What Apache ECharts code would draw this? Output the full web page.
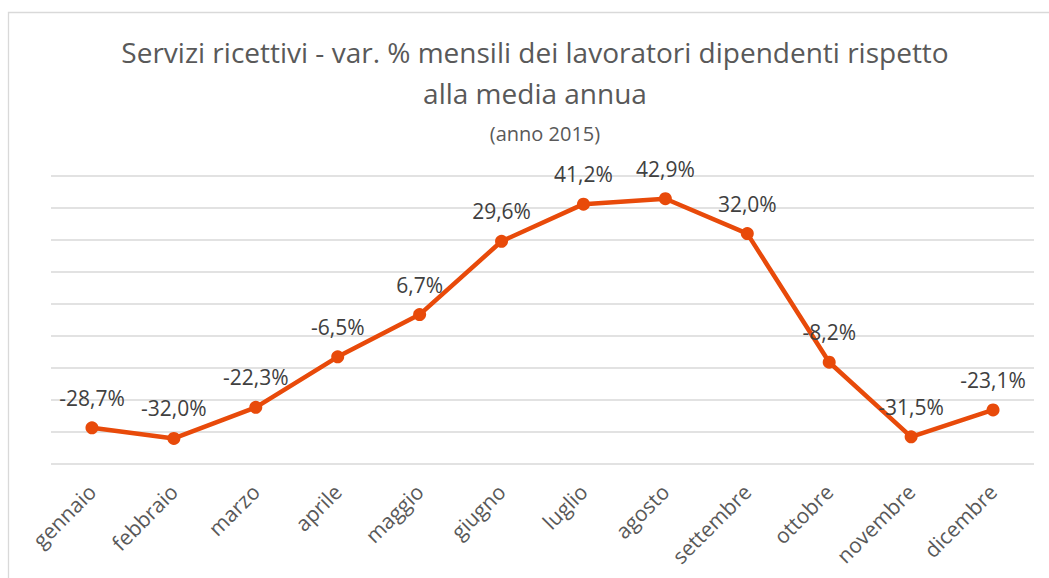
<!DOCTYPE html>
<html>
<head>
<meta charset="utf-8">
<script src="https://cdn.jsdelivr.net/npm/echarts@6/dist/echarts.min.js"></script>
<style>
  html, body { margin: 0; padding: 0; background: #ffffff; }
  #chart { width: 1049px; height: 578px; }
</style>
</head>
<body>
<div id="chart"></div>
<script>
const titleLine1 = 'Servizi ricettivi - var. % mensili dei lavoratori dipendenti rispetto';
const titleLine2 = 'alla media annua';
const subtitleText = '(anno 2015)';
const categories = ['gennaio', 'febbraio', 'marzo', 'aprile', 'maggio', 'giugno', 'luglio', 'agosto', 'settembre', 'ottobre', 'novembre', 'dicembre'];
const values = [-28.7, -32.0, -22.3, -6.5, 6.7, 29.6, 41.2, 42.9, 32.0, -8.2, -31.5, -23.1];
const yMin = -40;
const yMax = 50;
const yStep = 10;

const FONT = "'Open Sans', 'Noto Sans', sans-serif";
const chart = echarts.init(document.getElementById('chart'), null, { renderer: 'svg' });

chart.setOption({
  animation: false,
  backgroundColor: '#ffffff',
  graphic: [{
    type: 'rect',
    silent: true,
    shape: { x: 8.5, y: 12.5, width: 1200, height: 800 },
    style: { fill: 'none', stroke: '#d9d9d9', lineWidth: 1.3 }
  }],
  title: [{
    text: titleLine1 + '\n' + titleLine2,
    left: 535,
    top: 31,
    padding: 0,
    textAlign: 'center',
    textStyle: { fontFamily: FONT, fontSize: 28, fontWeight: 'normal', lineHeight: 41, color: '#595959' }
  }, {
    text: subtitleText,
    left: 545,
    top: 121,
    padding: 0,
    textAlign: 'center',
    textStyle: { fontFamily: FONT, fontSize: 20, fontWeight: 'normal', lineHeight: 24, color: '#595959' }
  }],
  grid: { left: 51, right: 15, top: 176, bottom: 114, containLabel: false },
  xAxis: {
    type: 'category',
    data: categories,
    boundaryGap: true,
    axisLine: { show: false },
    axisTick: { show: false },
    axisLabel: {
      rotate: 45,
      margin: 24,
      interval: 0,
      fontFamily: FONT,
      fontSize: 21,
      color: '#595959'
    }
  },
  yAxis: {
    type: 'value',
    min: yMin,
    max: yMax,
    interval: yStep,
    axisLine: { show: false },
    axisTick: { show: false },
    axisLabel: { show: false },
    splitLine: { show: true, lineStyle: { color: '#d9d9d9', width: 1.5 } }
  },
  series: [{
    type: 'line',
    data: values,
    symbol: 'circle',
    symbolSize: 13,
    lineStyle: { color: '#E84A0A', width: 4.5 },
    itemStyle: { color: '#E84A0A' },
    label: {
      show: true,
      position: 'top',
      distance: 13,
      fontFamily: FONT,
      fontSize: 21,
      color: '#404040',
      formatter: p => p.value.toFixed(1).replace('.', ',') + '%'
    }
  }]
});
</script>
</body>
</html>
